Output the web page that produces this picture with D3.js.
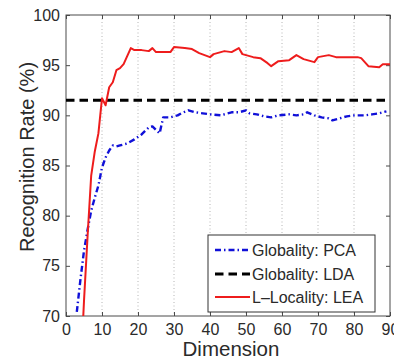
<!DOCTYPE html>
<html>
<head>
<meta charset="utf-8">
<script src="https://cdn.jsdelivr.net/npm/d3@7"></script>
<style>
  html, body { margin: 0; padding: 0; background: #fff; }
  svg { display: block; font-family: "Liberation Sans", Arial, Helvetica, sans-serif; }
</style>
</head>
<body>
<svg id="chart" width="394" height="359"></svg>
<script>
// Recognition rate vs. reduced dimension for three embedding methods
const xTicks = [0, 10, 20, 30, 40, 50, 60, 70, 80, 90];
const yTicks = [70, 75, 80, 85, 90, 95, 100];

const pcaDims = [3, 4, 5, 6, 7, 8, 9, 10, 11, 12, 13, 14, 15, 17, 19, 21, 23, 24, 26, 27, 29, 31, 32, 34, 36, 38, 40, 43, 46, 48, 50, 51, 53, 55, 57, 59, 62, 64, 66, 67, 69, 71, 73, 74, 76, 78, 80, 83, 85, 87, 89];
const pcaRate = [70.4, 73.6, 76.5, 78.6, 80.5, 81.8, 83.0, 84.8, 85.8, 86.5, 87.0, 86.9, 87.0, 87.2, 87.6, 88.1, 88.8, 88.9, 88.2, 89.8, 89.8, 90.0, 90.2, 90.5, 90.3, 90.2, 90.1, 90.0, 90.3, 90.3, 90.5, 90.2, 90.1, 89.9, 89.8, 90.0, 90.1, 90.0, 90.1, 90.3, 90.0, 89.8, 89.7, 89.5, 89.7, 89.9, 90.0, 90.0, 90.1, 90.2, 90.4];

const ldaDims = [0, 90];
const ldaRate = [91.5, 91.5];

const leaDims = [4, 5, 6, 7, 8, 9, 10, 11, 12, 13, 14, 15, 16, 18, 19, 21, 23, 24, 25, 27, 29, 30, 33, 35, 37, 40, 41, 44, 46, 48, 49, 50, 52, 54, 56, 57, 59, 62, 64, 66, 69, 70, 73, 75, 78, 81, 82, 84, 87, 88, 90];
const leaRate = [64.0, 71.5, 78.0, 84.0, 86.4, 88.2, 91.7, 91.0, 92.8, 93.3, 94.5, 94.7, 95.1, 96.7, 96.5, 96.5, 96.4, 96.7, 96.3, 96.3, 96.3, 96.8, 96.7, 96.6, 96.2, 95.8, 96.1, 96.4, 96.3, 96.7, 96.1, 96.0, 95.8, 95.7, 95.2, 94.9, 95.4, 95.5, 96.0, 95.6, 95.3, 95.8, 96.0, 95.8, 95.8, 95.8, 95.7, 94.9, 94.8, 95.1, 95.1];

const seriesNames = ["Globality: PCA", "Globality: LDA", "L\u2013Locality: LEA"];

const svg = d3.select("#chart");
const margin = { left: 66, top: 15, right: 4, bottom: 43 };
const W = 394 - margin.left - margin.right;
const H = 359 - margin.top - margin.bottom;

const x = d3.scaleLinear().domain([0, 90]).range([0, W]);
const y = d3.scaleLinear().domain([70, 100]).range([H, 0]);

const g = svg.append("g").attr("transform", `translate(${margin.left},${margin.top})`);

svg.append("defs").append("clipPath").attr("id", "plotClip")
  .append("rect").attr("x", 0).attr("y", 0).attr("width", W).attr("height", H);

// vertical dotted grid
g.append("g").selectAll("line")
  .data(xTicks.filter(t => t > 0 && t < 90))
  .join("line")
  .attr("x1", d => x(d)).attr("x2", d => x(d))
  .attr("y1", 0).attr("y2", H)
  .attr("stroke", "#b4b4b4").attr("stroke-width", 1)
  .attr("stroke-dasharray", "1,2.5");

// axes with inward ticks on all four sides
const axisColor = "#4a4a4a";
const textColor = "#2a2a2a";
function styleAxis(sel, showText) {
  sel.select(".domain").remove();
  sel.selectAll(".tick line").attr("stroke", axisColor);
  sel.selectAll(".tick text")
    .attr("fill", textColor)
    .style("font-size", "16px")
    .style("font-family", "'Liberation Sans', Arial, sans-serif");
  if (!showText) sel.selectAll(".tick text").remove();
}

const xAxisB = g.append("g").attr("transform", `translate(0,${H})`)
  .call(d3.axisBottom(x).tickValues(xTicks).tickSizeInner(-4).tickSizeOuter(0).tickPadding(8));
styleAxis(xAxisB, true);
const xAxisT = g.append("g")
  .call(d3.axisTop(x).tickValues(xTicks).tickSizeInner(-4).tickSizeOuter(0));
styleAxis(xAxisT, false);
const yAxisL = g.append("g")
  .call(d3.axisLeft(y).tickValues(yTicks).tickSizeInner(-4).tickSizeOuter(0).tickPadding(6));
styleAxis(yAxisL, true);
const yAxisR = g.append("g").attr("transform", `translate(${W},0)`)
  .call(d3.axisRight(y).tickValues(yTicks).tickSizeInner(-4).tickSizeOuter(0));
styleAxis(yAxisR, false);

// plot box
g.append("rect").attr("x", 0).attr("y", 0).attr("width", W).attr("height", H)
  .attr("fill", "none").attr("stroke", axisColor).attr("stroke-width", 1);

const line = d3.line().x(d => x(d[0])).y(d => y(d[1]));
const zip = (a, b) => a.map((v, i) => [v, b[i]]);

const styles = [
  { color: "#1010d8", width: 2.4, dash: "6,3,1.5,3" },
  { color: "#000000", width: 3, dash: "8.5,5" },
  { color: "#ee1c1c", width: 2, dash: null }
];

const lines = g.append("g").attr("clip-path", "url(#plotClip)");
[[pcaDims, pcaRate], [ldaDims, ldaRate], [leaDims, leaRate]].forEach((s, i) => {
  lines.append("path")
    .datum(zip(s[0], s[1]))
    .attr("d", line)
    .attr("fill", "none")
    .attr("stroke", styles[i].color)
    .attr("stroke-width", styles[i].width)
    .attr("stroke-dasharray", styles[i].dash)
    .attr("stroke-linejoin", "round");
});

// axis titles
svg.append("text")
  .attr("x", margin.left + W / 2 + 3).attr("y", 356)
  .attr("text-anchor", "middle")
  .style("font-size", "20.5px").attr("fill", textColor)
  .text("Dimension");

svg.append("text")
  .attr("transform", `translate(34,${157}) rotate(-90)`)
  .attr("text-anchor", "middle")
  .style("font-size", "20px").attr("fill", textColor)
  .text("Recognition Rate (%)");

// legend
const leg = svg.append("g");
leg.append("rect")
  .attr("x", 208).attr("y", 235).attr("width", 167).attr("height", 77)
  .attr("fill", "#fff").attr("stroke", "#333").attr("stroke-width", 1);
const rowY = [250, 274, 297];
seriesNames.forEach((name, i) => {
  leg.append("line")
    .attr("x1", 215).attr("x2", 250).attr("y1", rowY[i]).attr("y2", rowY[i])
    .attr("stroke", styles[i].color)
    .attr("stroke-width", styles[i].width)
    .attr("stroke-dasharray", styles[i].dash);
  leg.append("text")
    .attr("x", 252).attr("y", rowY[i]).attr("dy", "0.36em")
    .style("font-size", "16px").attr("fill", textColor)
    .text(name);
});
</script>
</body>
</html>
